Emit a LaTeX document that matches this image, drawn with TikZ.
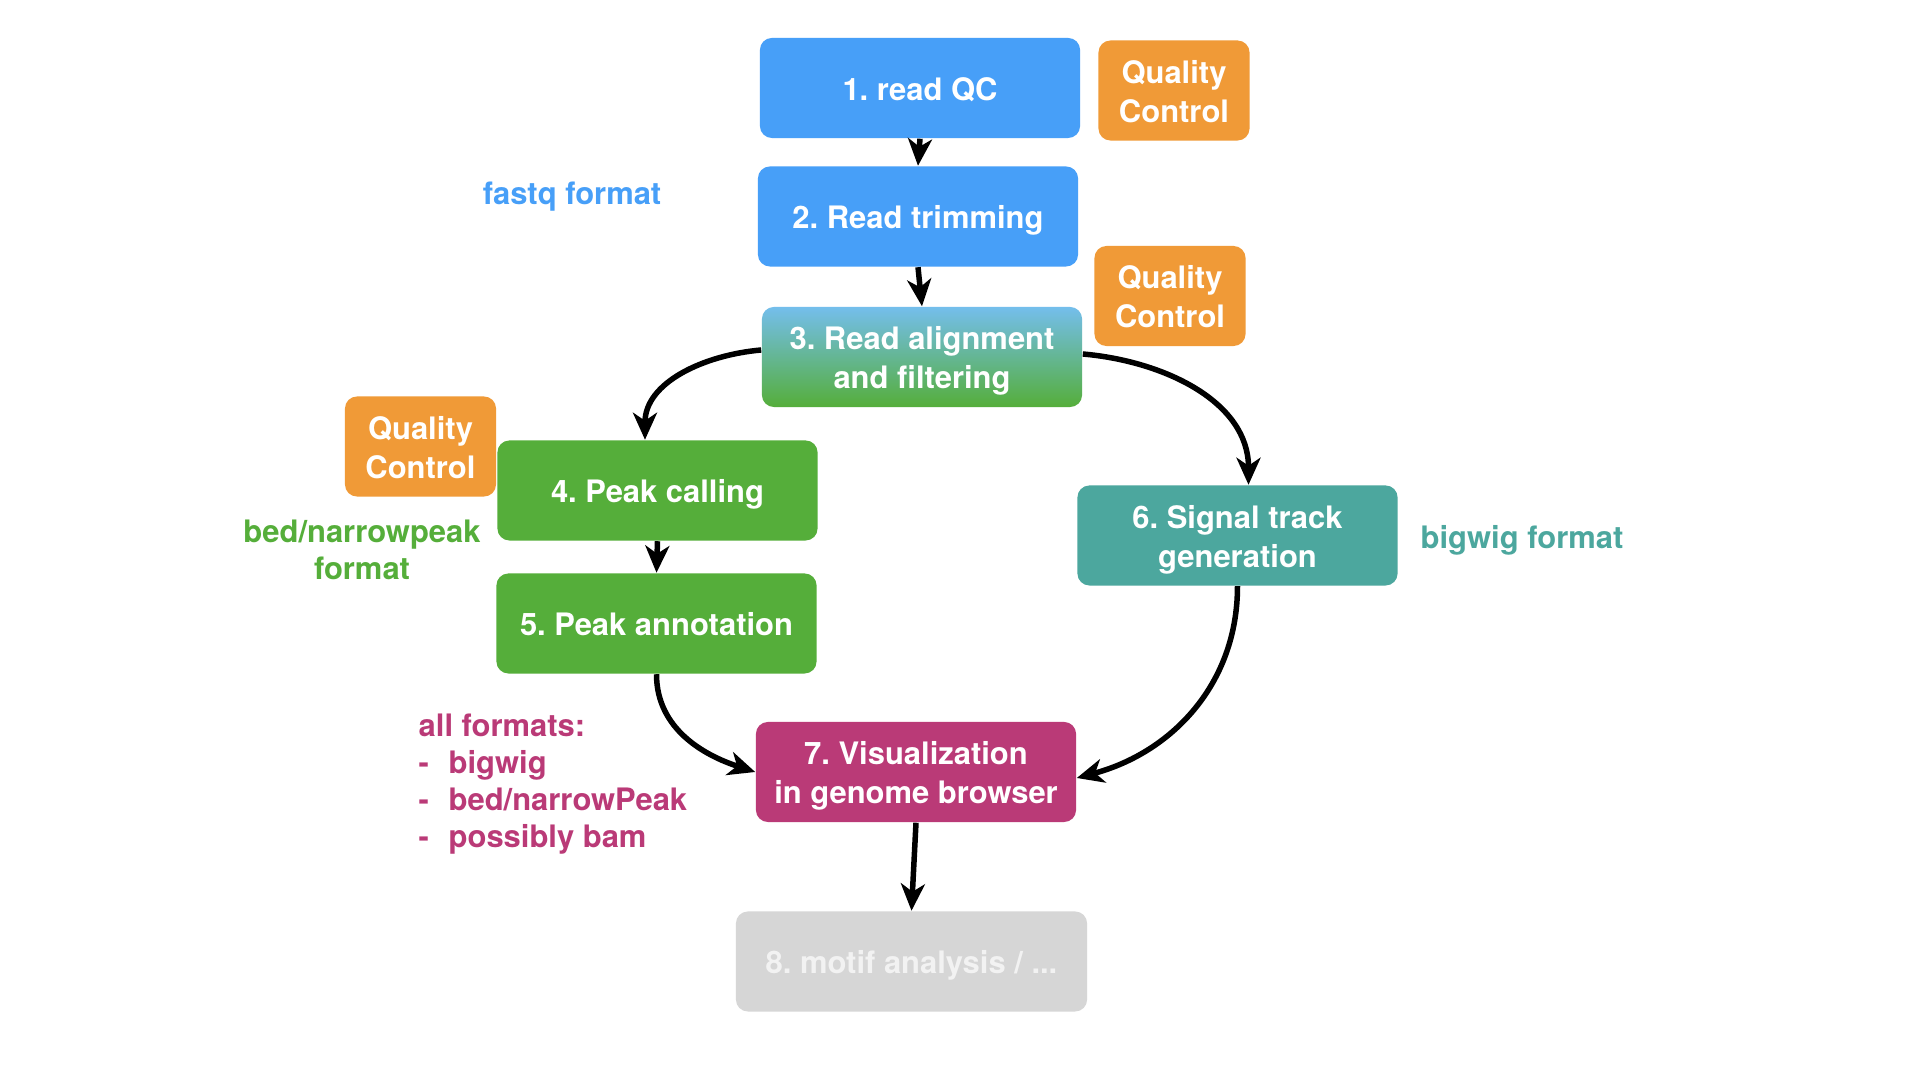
\documentclass[tikz,border=0pt]{standalone}
\usepackage{fontspec}
\setmainfont{TeX Gyre Heros}
\usetikzlibrary{arrows.meta}
\definecolor{cblue}{HTML}{479FF8}
\definecolor{corange}{HTML}{F09A37}
\definecolor{cgreen}{HTML}{55AE3A}
\definecolor{cteal}{HTML}{4CA79E}
\definecolor{cmag}{HTML}{BA3A77}
\definecolor{cgray}{HTML}{D6D6D6}
\definecolor{cgraytext}{HTML}{F2F2F2}
\definecolor{clight}{HTML}{74BEEC}
\newcommand\bxs{\rule{0pt}{9.5pt}}
\newcommand\bxe{\rule[-2.5pt]{0pt}{2.5pt}}
\frenchspacing
\begin{document}
\begin{tikzpicture}[x=0.01cm,y=-0.01cm,
  box/.style={rounded corners=0.12cm, minimum width=3.2cm, minimum height=1.0cm,
    text=white, font=\bfseries\fontsize{8.8pt}{11.1pt}\selectfont, align=center, inner sep=0pt},
  qc/.style={box, fill=corange, minimum width=1.51cm},
  lbl/.style={font=\bfseries\fontsize{8.8pt}{10.6pt}\selectfont, align=center, inner sep=0pt},
  arr/.style={-{Stealth[length=0.27cm,width=0.24cm,inset=0.08cm]}, line width=0.055cm, black},
]
\useasboundingbox[fill=white] (0,0) rectangle (1920,1080);

\node[box, fill=cblue] (n1) at (920,88) {\bxs 1. read QC\bxe};
\node[qc] (q1) at (1174,90.5) {\bxs Quality\\Control\bxe};
\node[box, fill=cblue] (n2) at (918,216.5) {\bxs 2. Read trimming\bxe};
\node[qc] (q2) at (1170,296) {\bxs Quality\\Control\bxe};
\node[box, top color=clight, bottom color=cgreen] (n3) at (922,357) {\bxs 3. Read alignment\\and filtering\bxe};
\node[qc] (q3) at (420.5,446.5) {\bxs Quality\\Control\bxe};
\node[box, fill=cgreen] (n4) at (657.5,490.5) {\bxs 4. Peak calling\bxe};
\node[box, fill=cgreen] (n5) at (656.5,623.5) {\bxs 5. Peak annotation\bxe};
\node[box, fill=cteal] (n6) at (1237.5,535.5) {\bxs 6. Signal track\\generation\bxe};
\node[box, fill=cmag] (n7) at (916,772) {\bxs 7. Visualization\\in genome browser\bxe};
\node[box, fill=cgray, text=cgraytext, minimum width=3.51cm] (n8) at (911.5,961.5) {\bxs 8. motif analysis / ...\bxe};

\node[lbl, text=cblue] (l1) at (572,196.5) {fastq format};
\node[lbl, text=cgreen] (l2) at (362,550) {bed/narrowpeak\\format};
\node[lbl, text=cteal] (l3) at (1522,540) {bigwig format};
\node[lbl, text=cmag, align=left, anchor=north west, font=\bfseries\fontsize{8.8pt}{10.5pt}\selectfont] (l4) at (418,713)
  {all formats:\\\makebox[0.3cm][l]{-}bigwig\\\makebox[0.3cm][l]{-}bed/narrowPeak\\\makebox[0.3cm][l]{-}possibly bam};

\draw[arr] (n1.south) -- (n2.north);
\draw[arr] (n2.south) -- (n3.north);
\draw[arr] ([yshift=0.07cm]n3.west) to[out=185,in=90] ([xshift=-0.125cm]n4.north);
\draw[arr] ([yshift=0.03cm]n3.east) to[out=-5,in=90] ([xshift=0.11cm]n6.north);
\draw[arr] (n4.south) -- (n5.north);
\draw[arr] (n5.south) to[out=-90,in=162] (n7.west);
\draw[arr] (n6.south) to[out=-90,in=15] ([yshift=-0.06cm]n7.east);
\draw[arr] (n7.south) -- (n8.north);
\end{tikzpicture}
\end{document}
